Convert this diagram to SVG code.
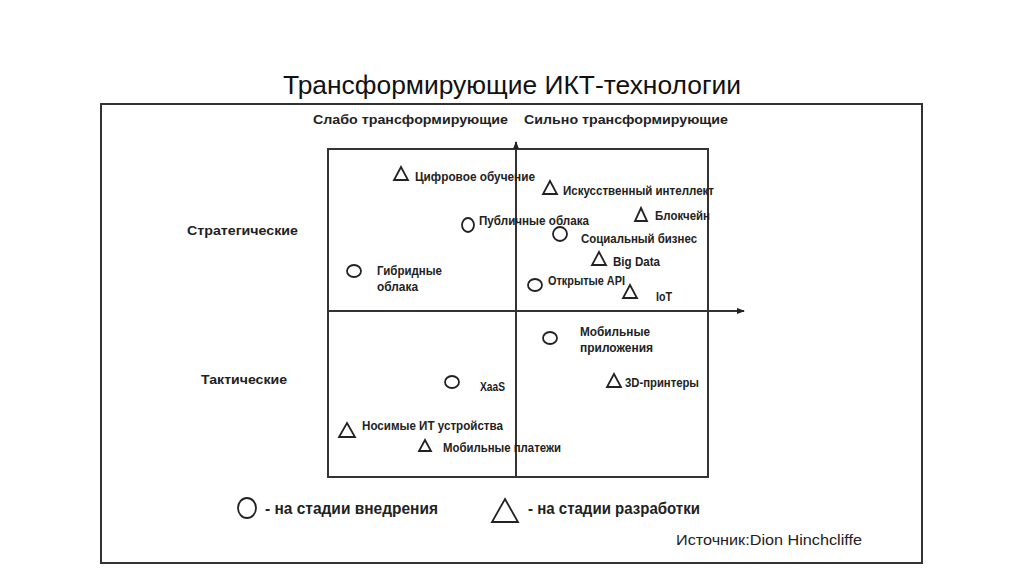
<svg xmlns="http://www.w3.org/2000/svg" width="1024" height="574" viewBox="0 0 1024 574">
<style>
.t{font-family:"Liberation Sans",Arial,sans-serif;fill:#222}
.lbl{font-size:12.5px;font-weight:bold}
.hd{font-size:12.5px;font-weight:bold}
.lg{font-size:16px;font-weight:bold}
.src{font-size:15px}
.ln{stroke:#333;stroke-width:2;fill:none}
.mk{stroke:#222;stroke-width:1.8;fill:none}
</style>
<defs>
<marker id="arr" markerWidth="8" markerHeight="8" refX="7" refY="4" orient="auto" markerUnits="userSpaceOnUse">
<path d="M0,1 L8,4 L0,7 Z" fill="#222"/>
</marker>
</defs>
<rect width="1024" height="574" fill="#fff"/>
<text class="t" x="512" y="94" text-anchor="middle" font-size="25" textLength="458" lengthAdjust="spacingAndGlyphs" style="fill:#111">Трансформирующие ИКТ-технологии</text>
<rect id="frame" x="101" y="104" width="821" height="459" class="ln"/>
<g id="headers">
<text class="t hd" x="313" y="124" textLength="195" lengthAdjust="spacingAndGlyphs">Слабо трансформирующие</text>
<text class="t hd" x="524" y="124" textLength="204" lengthAdjust="spacingAndGlyphs">Сильно трансформирующие</text>
<text class="t hd" x="187" y="235" textLength="111" lengthAdjust="spacingAndGlyphs">Стратегические</text>
<text class="t hd" x="201" y="384" textLength="86" lengthAdjust="spacingAndGlyphs">Тактические</text>
</g>
<g id="connectors">
<rect x="328" y="149" width="380" height="328" class="ln"/>
<line x1="516" y1="477" x2="516" y2="142" class="ln" marker-end="url(#arr)"/>
<line x1="328" y1="311" x2="744" y2="311" class="ln" marker-end="url(#arr)"/>
</g>
<g id="n-digital"><path class="mk" d="M401,167 L408,180 L394,180 Z"/><text class="t lbl" x="415" y="181" textLength="120" lengthAdjust="spacingAndGlyphs">Цифровое обучение</text></g>
<g id="n-ai"><path class="mk" d="M550,181 L557,194 L543,194 Z"/><text class="t lbl" x="563" y="195" textLength="151" lengthAdjust="spacingAndGlyphs">Искусственный интеллект</text></g>
<g id="n-block"><path class="mk" d="M641,208 L647,221 L635,221 Z"/><text class="t lbl" x="655" y="220" textLength="55" lengthAdjust="spacingAndGlyphs">Блокчейн</text></g>
<g id="n-public"><ellipse class="mk" cx="468" cy="225" rx="6" ry="7"/><text class="t lbl" x="479" y="225" textLength="110" lengthAdjust="spacingAndGlyphs">Публичные облака</text></g>
<g id="n-social"><ellipse class="mk" cx="560" cy="234" rx="7" ry="7"/><text class="t lbl" x="581" y="243" textLength="116" lengthAdjust="spacingAndGlyphs">Социальный бизнес</text></g>
<g id="n-bigdata"><path class="mk" d="M599,252 L606,265 L592,265 Z"/><text class="t lbl" x="613" y="266" textLength="47" lengthAdjust="spacingAndGlyphs">Big Data</text></g>
<g id="n-hybrid"><ellipse class="mk" cx="354" cy="271" rx="7" ry="6"/><text class="t lbl" x="377" y="275" textLength="65" lengthAdjust="spacingAndGlyphs">Гибридные</text><text class="t lbl" x="377" y="291" textLength="41" lengthAdjust="spacingAndGlyphs">облака</text></g>
<g id="n-api"><ellipse class="mk" cx="535" cy="285" rx="7" ry="6"/><text class="t lbl" x="548" y="285" textLength="77" lengthAdjust="spacingAndGlyphs">Открытые API</text></g>
<g id="n-iot"><path class="mk" d="M630,285 L637,298 L623,298 Z"/><text class="t lbl" x="656" y="301" textLength="16" lengthAdjust="spacingAndGlyphs">IoT</text></g>
<g id="n-mobapp"><ellipse class="mk" cx="550" cy="338" rx="7" ry="6"/><text class="t lbl" x="580" y="336" textLength="70" lengthAdjust="spacingAndGlyphs">Мобильные</text><text class="t lbl" x="580" y="352" textLength="73" lengthAdjust="spacingAndGlyphs">приложения</text></g>
<g id="n-xaas"><ellipse class="mk" cx="452" cy="382" rx="7" ry="6"/><text class="t lbl" x="480" y="391" textLength="25" lengthAdjust="spacingAndGlyphs">XaaS</text></g>
<g id="n-3d"><path class="mk" d="M614,374 L621,387 L607,387 Z"/><text class="t lbl" x="625" y="387" textLength="74" lengthAdjust="spacingAndGlyphs">3D-принтеры</text></g>
<g id="n-wear"><path class="mk" d="M347,423 L355,437 L339,437 Z"/><text class="t lbl" x="362" y="430" textLength="141" lengthAdjust="spacingAndGlyphs">Носимые ИТ устройства</text></g>
<g id="n-pay"><path class="mk" d="M425,440 L431,451 L419,451 Z"/><text class="t lbl" x="443" y="452" textLength="118" lengthAdjust="spacingAndGlyphs">Мобильные платежи</text></g>
<g id="legend">
<ellipse class="mk" cx="247" cy="508" rx="9" ry="10"/>
<text class="t lg" x="265" y="514" textLength="173" lengthAdjust="spacingAndGlyphs">- на стадии внедрения</text>
<path class="mk" d="M505,499 L518,522 L492,522 Z"/>
<text class="t lg" x="528" y="514" textLength="172" lengthAdjust="spacingAndGlyphs">- на стадии разработки</text>
</g>
<text class="t src" x="676" y="545" textLength="186" lengthAdjust="spacingAndGlyphs">Источник:Dion Hinchcliffe</text>
</svg>
